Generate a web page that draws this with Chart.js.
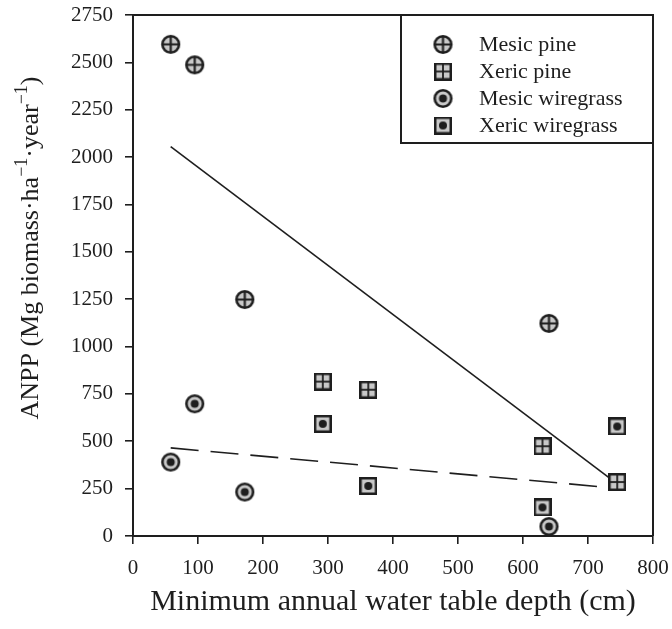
<!DOCTYPE html>
<html>
<head>
<meta charset="utf-8">
<script src="https://cdn.jsdelivr.net/npm/chart.js@4/dist/chart.umd.min.js"></script>
<style>
  html, body { margin: 0; padding: 0; background: #fff; }
  canvas { display: block; }
</style>
</head>
<body>
<canvas id="anpp" width="672" height="629"></canvas>
<script>
// values
const mesicPineX = [58, 95, 172, 640];
const mesicPineY = [2595, 2487, 1248, 1122];
const xericPineX = [292, 362, 630, 745];
const xericPineY = [815, 772, 474, 285];
const mesicWireX = [58, 95, 172, 640];
const mesicWireY = [390, 698, 232, 50];
const xericWireX = [292, 362, 630, 745];
const xericWireY = [592, 264, 151, 578];

// fitted lines (pine solid, wiregrass dashed)
const pineFitX = [58, 745];
const pineFitY = [2055, 275];
const wireFitX = [58, 745];
const wireFitY = [465, 252];

const xTicks = [0, 100, 200, 300, 400, 500, 600, 700, 800];
const yTicks = [0, 250, 500, 750, 1000, 1250, 1500, 1750, 2000, 2250, 2500, 2750];

const INK = '#1e1e1e';
const FILL = '#c9c9c9';
const SERIF = '"Liberation Serif", "Times New Roman", serif';

const pts = (xs, ys) => xs.map((x, i) => ({ x, y: ys[i] }));

// marker glyphs
function circleMarker(inner) {
  const c = document.createElement('canvas');
  c.width = c.height = 21;
  const g = c.getContext('2d');
  g.beginPath(); g.arc(10.5, 10.5, 8.3, 0, Math.PI * 2);
  g.fillStyle = FILL; g.fill();
  g.lineWidth = 2.6; g.strokeStyle = INK; g.stroke();
  if (inner === 'cross') {
    g.lineWidth = 2.2;
    g.beginPath();
    g.moveTo(10.5, 2); g.lineTo(10.5, 19);
    g.moveTo(2, 10.5); g.lineTo(19, 10.5);
    g.stroke();
  } else {
    g.beginPath(); g.arc(10.5, 10.5, 4, 0, Math.PI * 2);
    g.fillStyle = INK; g.fill();
  }
  return c;
}

function squareMarker(inner) {
  const c = document.createElement('canvas');
  c.width = c.height = 18;
  const g = c.getContext('2d');
  g.fillStyle = INK; g.fillRect(0, 0, 18, 18);
  if (inner === 'grid') {
    g.fillStyle = FILL;
    g.fillRect(2.5, 2.5, 5.6, 5.6); g.fillRect(9.9, 2.5, 5.6, 5.6);
    g.fillRect(2.5, 9.9, 5.6, 5.6); g.fillRect(9.9, 9.9, 5.6, 5.6);
  } else {
    g.fillStyle = FILL; g.fillRect(2.5, 2.5, 13, 13);
    g.beginPath(); g.arc(9, 9, 4, 0, Math.PI * 2);
    g.fillStyle = INK; g.fill();
  }
  return c;
}

const markers = {
  mesicPine: circleMarker('cross'),
  xericPine: squareMarker('grid'),
  mesicWire: circleMarker('dot'),
  xericWire: squareMarker('dot')
};

const LEFT = 133, TOP = 15, RIGHT = 653, BOTTOM = 536;

const framePlugin = {
  id: 'frame',
  afterDatasetsDraw(chart) {
    const { ctx, chartArea: a } = chart;
    ctx.save();
    ctx.strokeStyle = INK; ctx.lineWidth = 2;
    ctx.beginPath();
    ctx.moveTo(a.left - 1, a.top); ctx.lineTo(a.right, a.top); ctx.lineTo(a.right, a.bottom);
    ctx.stroke();
    ctx.restore();
  }
};

const legendPlugin = {
  id: 'boxLegend',
  afterDraw(chart) {
    const { ctx, chartArea: a } = chart;
    const x0 = 401, y0 = a.top, x1 = a.right, y1 = 143;
    ctx.save();
    ctx.fillStyle = '#fff';
    ctx.fillRect(x0, y0, x1 - x0, y1 - y0);
    ctx.strokeStyle = INK; ctx.lineWidth = 2;
    ctx.strokeRect(x0, y0, x1 - x0, y1 - y0);
    ctx.font = '22px ' + SERIF;
    ctx.fillStyle = INK;
    ctx.textBaseline = 'middle';
    const rows = chart.data.datasets.filter(d => d.showInBox);
    rows.forEach((d, i) => {
      const cy = 44.5 + i * 27;
      const m = d.pointStyle;
      ctx.drawImage(m, 443 - m.width / 2, cy - m.height / 2);
      ctx.fillText(d.label, 479, cy + 1);
    });
    ctx.restore();
  }
};

const yTitlePlugin = {
  id: 'yTitle',
  afterDraw(chart) {
    const { ctx } = chart;
    const parts = [
      ['ANPP (Mg biomass\u00b7ha', false],
      ['\u22121', true],
      ['\u00b7year', false],
      ['\u22121', true],
      [')', false]
    ];
    const big = '26px ' + SERIF, small = '18px ' + SERIF;
    ctx.save();
    let w = 0;
    parts.forEach(([t, sup]) => { ctx.font = sup ? small : big; w += ctx.measureText(t).width; });
    ctx.translate(31, 248);
    ctx.rotate(-Math.PI / 2);
    ctx.fillStyle = INK;
    ctx.textBaseline = 'middle';
    let x = -w / 2;
    parts.forEach(([t, sup]) => {
      ctx.font = sup ? small : big;
      ctx.fillText(t, x, sup ? -9 : 0);
      x += ctx.measureText(t).width;
    });
    ctx.restore();
  }
};

const axisStyle = {
  border: { display: true, color: INK, width: 2 },
  grid: { display: true, drawOnChartArea: false, drawTicks: true, tickLength: 8, color: INK, lineWidth: 1.6 },
  ticks: { color: INK, font: { family: SERIF, size: 21 }, callback: v => String(v) }
};

new Chart(document.getElementById('anpp'), {
  data: {
    datasets: [
      { type: 'line', label: 'pine fit', data: pts(pineFitX, pineFitY), borderColor: INK, borderWidth: 1.6, pointRadius: 0, order: 2 },
      { type: 'line', label: 'wiregrass fit', data: pts(wireFitX, wireFitY), borderColor: INK, borderWidth: 1.6, borderDash: [28, 12], pointRadius: 0, order: 2 },
      { type: 'scatter', label: 'Mesic pine', data: pts(mesicPineX, mesicPineY), pointStyle: markers.mesicPine, showInBox: true, order: 1 },
      { type: 'scatter', label: 'Xeric pine', data: pts(xericPineX, xericPineY), pointStyle: markers.xericPine, showInBox: true, order: 1 },
      { type: 'scatter', label: 'Mesic wiregrass', data: pts(mesicWireX, mesicWireY), pointStyle: markers.mesicWire, showInBox: true, order: 1 },
      { type: 'scatter', label: 'Xeric wiregrass', data: pts(xericWireX, xericWireY), pointStyle: markers.xericWire, showInBox: true, order: 1 }
    ]
  },
  options: {
    responsive: false,
    animation: false,
    layout: { padding: { top: TOP, right: 672 - RIGHT, left: 0, bottom: 0 } },
    plugins: { legend: { display: false }, tooltip: { enabled: false } },
    scales: {
      x: {
        ...axisStyle,
        ticks: { ...axisStyle.ticks, padding: 12 },
        type: 'linear', min: 0, max: 800,
        afterBuildTicks: s => { s.ticks = xTicks.map(v => ({ value: v })); },
        afterFit: s => { s.height = 629 - BOTTOM; s.paddingLeft = 0; s.paddingRight = 0; },
        title: { display: true, text: 'Minimum annual water table depth (cm)', color: INK, font: { family: SERIF, size: 30 }, padding: { top: 0, bottom: 9 } }
      },
      y: {
        ...axisStyle,
        ticks: { ...axisStyle.ticks, padding: 12 },
        type: 'linear', min: 0, max: 2750,
        afterBuildTicks: s => { s.ticks = yTicks.map(v => ({ value: v })); },
        afterFit: s => { s.width = LEFT; s.paddingTop = 0; s.paddingBottom = 0; }
      }
    }
  },
  plugins: [framePlugin, legendPlugin, yTitlePlugin]
});
</script>
</body>
</html>
